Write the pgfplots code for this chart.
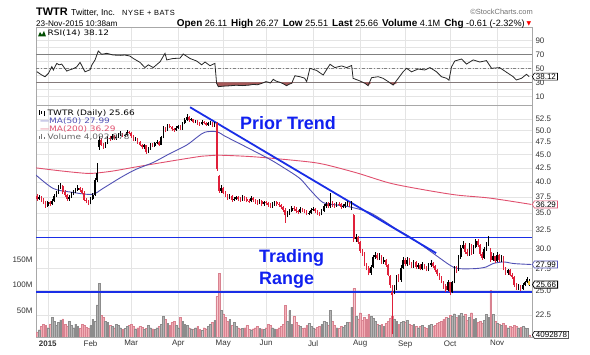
\documentclass[border=0pt]{standalone}
\usepackage{pgfplots}
\pgfplotsset{compat=1.18}
\usepackage{pgfplotstable}
\usetikzlibrary{shapes.symbols}
\usepackage{fontspec}
\setmainfont{Liberation Sans}
\newfontfamily\dv[FakeStretch=1.2]{DejaVu Sans}
\newfontfamily\dvplain{DejaVu Sans}
\definecolor{gridc}{HTML}{E4E4E4}
\definecolor{framec}{HTML}{A8A8A8}
\definecolor{candred}{HTML}{E0203A}
\definecolor{volred}{HTML}{F3AEB6}
\definecolor{volredE}{HTML}{D88290}
\definecolor{volgray}{HTML}{B4B4B4}
\definecolor{volgrayE}{HTML}{8C8C8C}
\definecolor{ma50}{HTML}{5050B4}
\definecolor{ma200}{HTML}{E0506E}
\definecolor{annblue}{HTML}{1020F0}
\definecolor{lineblue}{HTML}{1A2EE6}
\definecolor{rsifill}{HTML}{A85A5A}
\definecolor{txt}{HTML}{333333}
\definecolor{lastc}{HTML}{F2C23A}

\pgfplotstableread{
i o h l c v r
-5 37.6 37.9 36.9 37.2 10 1
-4 37.2 37.8 37.0 37.5 14 0
-3 37.5 37.7 36.7 37.0 20 1
-2 37.0 37.3 36.3 36.6 24 1
-1 36.6 36.8 35.8 36.1 22 1
0 36.1 36.9 35.9 36.6 18 0
1 36.6 36.9 36.0 36.4 25 1
2 36.4 37.2 36.2 36.9 38 0
3 36.9 37.9 36.7 37.6 30 0
4 37.6 38.5 37.4 38.2 22 0
5 38.2 39.4 38.0 39.0 28 0
6 39.0 39.8 38.8 39.3 33 0
7 39.3 39.5 38.0 38.3 35 1
8 38.3 38.6 37.5 37.8 24 1
9 37.8 38.0 36.9 37.2 20 1
10 37.2 37.8 36.9 37.5 30 0
11 37.5 38.3 37.3 38.0 22 0
12 38.0 38.7 37.8 38.4 18 0
13 38.4 39.0 38.2 38.7 25 0
14 38.7 39.5 38.5 39.0 20 0
15 39.0 39.2 38.3 38.6 17 1
16 38.6 38.9 37.9 38.2 24 1
17 38.2 38.4 36.8 37.0 22 1
18 37.0 37.3 36.5 36.8 19 1
19 36.8 37.0 36.2 36.5 17 1
20 36.5 37.5 36.3 37.2 22 0
21 37.2 38.1 37.0 37.8 34 0
22 37.8 40.7 37.6 40.3 30 0
23 40.3 43.5 40.0 41.5 62 0
24 46.5 48.7 46.0 48.0 104 0
25 48.0 48.3 46.7 47.0 42 1
26 47.0 47.4 46.2 46.6 38 1
27 46.6 47.6 46.4 47.3 30 0
28 47.3 48.8 47.1 48.4 28 0
29 48.4 48.7 47.8 48.1 22 1
30 48.1 49.2 47.9 48.8 20 0
31 48.8 49.0 48.0 48.3 18 1
32 48.3 48.9 48.0 48.6 24 0
33 48.6 49.4 48.4 49.0 22 0
34 49.0 49.8 48.8 49.3 18 0
35 49.3 49.5 48.6 48.9 15 1
36 48.9 49.3 48.6 49.0 17 0
37 49.0 50.0 48.8 49.6 20 0
38 49.6 49.9 49.1 49.4 22 1
39 49.4 49.6 48.4 48.7 24 1
40 48.7 48.9 47.7 48.0 20 1
41 48.0 48.5 47.7 48.2 16 0
42 48.2 48.4 47.2 47.5 18 1
43 47.5 47.8 46.7 47.0 21 1
44 47.0 47.2 46.2 46.5 19 1
45 46.5 47.2 46.2 46.9 15 0
46 46.9 47.0 45.2 45.5 17 1
47 45.5 46.5 45.3 46.2 22 0
48 46.2 47.3 46.0 47.0 18 0
49 47.0 47.3 46.5 46.8 16 1
50 46.8 47.6 46.6 47.3 15 0
51 47.3 47.9 47.1 47.6 18 0
52 47.6 47.8 46.7 47.0 20 1
53 47.0 48.8 46.9 48.5 24 0
54 48.5 50.9 48.3 50.5 40 0
55 50.5 50.8 49.6 50.0 34 1
56 50.0 51.4 49.8 51.0 26 0
57 51.0 51.3 50.4 50.7 22 1
58 50.7 51.0 49.9 50.2 28 1
59 50.2 50.5 49.7 50.0 30 1
60 50.0 50.9 49.8 50.6 22 0
61 50.6 51.2 50.3 50.9 18 0
62 50.9 51.1 50.0 50.3 38 1
63 50.3 51.8 50.1 51.5 30 0
64 51.5 52.7 51.3 52.3 24 0
65 52.3 53.6 52.1 53.0 22 0
66 53.0 53.2 51.9 52.2 18 1
67 52.2 52.8 52.0 52.4 16 0
68 52.4 52.6 51.5 51.8 15 1
69 51.8 52.3 51.5 52.0 18 0
70 52.0 52.2 51.2 51.5 20 1
71 51.5 51.8 51.0 51.3 15 1
72 51.3 52.2 51.1 51.9 13 0
73 51.9 52.1 51.3 51.6 18 1
74 51.6 51.8 50.9 51.2 16 1
75 51.2 51.8 51.0 51.5 20 0
76 51.5 52.0 51.2 51.7 24 0
77 51.7 51.9 50.7 51.0 28 1
78 51.0 51.9 50.8 51.6 32 0
79 51.6 51.9 42.0 42.3 78 1
80 41.0 41.3 38.2 38.5 123 1
81 38.5 39.4 38.1 38.9 52 0
82 38.9 39.1 37.9 38.2 45 1
83 38.2 38.5 37.5 37.8 38 1
84 37.8 38.0 37.0 37.3 30 1
85 37.3 37.9 37.1 37.6 34 0
86 37.6 37.8 36.7 37.0 22 1
87 37.0 37.5 36.8 37.2 28 0
88 37.2 37.7 37.0 37.4 20 0
89 37.4 37.6 36.8 37.1 18 1
90 37.1 37.4 36.7 37.0 16 1
91 37.0 37.8 36.8 37.5 17 0
92 37.5 37.7 36.9 37.2 18 1
93 37.2 37.4 36.6 36.9 22 1
94 36.9 37.1 36.5 36.8 15 1
95 36.8 37.6 36.6 37.3 14 0
96 37.3 37.5 36.7 37.0 16 1
97 37.0 37.2 36.4 36.7 18 1
98 36.7 37.0 36.2 36.5 20 1
99 36.5 37.1 36.3 36.8 17 0
100 36.8 37.0 36.0 36.3 16 1
101 36.3 36.9 36.1 36.6 15 0
102 36.6 36.9 36.2 36.5 18 1
103 36.5 36.7 35.9 36.2 25 1
104 36.2 36.5 35.7 36.0 22 1
105 36.0 36.6 35.8 36.3 18 0
106 36.3 36.9 36.1 36.6 16 0
107 36.6 36.8 36.1 36.4 15 1
108 36.4 36.7 35.9 36.2 18 1
109 36.2 36.4 35.6 35.9 20 1
110 35.9 36.1 35.2 35.5 24 1
111 35.5 35.7 33.5 34.6 61 1
112 34.6 35.3 34.3 34.9 30 0
113 34.9 35.6 34.7 35.3 51 0
114 35.3 36.1 35.1 35.8 25 0
115 35.8 36.0 35.3 35.6 40 1
116 35.6 35.9 35.0 35.3 28 1
117 35.3 35.5 34.8 35.1 22 1
118 35.1 35.9 34.9 35.6 20 0
119 35.6 35.8 35.1 35.4 17 1
120 35.4 35.6 34.9 35.2 18 1
121 35.2 35.4 34.6 34.9 22 1
122 34.9 35.3 34.7 35.0 26 0
123 35.0 35.8 34.8 35.5 20 0
124 35.5 35.9 35.3 35.6 18 0
125 35.6 35.8 35.0 35.3 16 1
126 35.3 35.5 34.7 35.0 19 1
127 35.0 35.2 34.5 34.8 21 1
128 34.8 35.6 34.6 35.3 24 0
129 35.3 36.3 35.1 36.0 30 0
130 36.0 36.6 35.8 36.3 28 0
131 36.3 36.6 35.7 36.0 22 1
132 36.0 38.1 35.8 36.5 51 0
133 36.5 36.8 35.9 36.2 30 1
134 36.2 36.5 35.8 36.1 22 1
135 36.1 36.7 35.9 36.4 18 0
136 36.4 36.7 36.0 36.3 17 1
137 36.3 36.5 35.6 35.9 20 1
138 35.9 36.3 35.7 36.0 19 0
139 36.0 36.6 35.8 36.3 22 0
140 36.3 36.8 36.1 36.4 28 0
141 36.4 36.7 35.9 36.1 28 1
142 35.9 36.9 35.4 36.7 57 0
143 34.6 34.8 30.9 31.2 94 1
144 31.2 31.9 30.9 31.5 40 0
145 31.5 31.7 30.6 30.9 35 1
146 30.9 31.0 29.4 29.7 47 1
147 29.7 29.9 29.1 29.4 32 1
148 29.4 29.5 27.8 28.0 38 1
149 28.0 28.2 27.3 27.6 34 1
150 27.6 27.8 26.7 27.0 44 1
151 27.0 27.9 26.8 27.7 40 0
152 27.7 29.2 27.6 28.9 36 0
153 28.9 29.5 28.7 29.2 30 0
154 29.2 29.4 28.5 28.8 25 1
155 28.8 29.4 28.6 29.1 22 0
156 29.1 29.2 28.1 28.3 24 1
157 28.3 28.9 28.1 28.6 20 0
158 28.6 28.7 27.7 27.9 26 1
159 27.9 28.0 26.6 26.8 30 1
160 26.6 26.8 25.3 25.6 36 1
161 24.5 25.6 20.7 24.9 40 1
162 24.9 25.6 24.6 25.3 35 0
163 25.3 26.8 25.1 26.5 30 0
164 26.5 26.9 25.9 26.2 25 1
165 26.2 27.9 26.0 27.6 28 0
166 27.6 28.9 27.4 28.6 30 0
167 28.6 28.8 27.8 28.0 28 1
168 28.0 28.9 27.8 28.6 32 0
169 28.6 28.8 27.9 28.1 25 1
170 28.1 28.3 27.6 27.8 22 1
171 27.8 28.6 27.6 28.3 24 0
172 28.3 28.4 27.5 27.7 20 1
173 27.7 28.2 27.5 27.9 18 0
174 27.9 28.0 27.3 27.5 21 1
175 27.5 28.3 27.3 28.0 23 0
176 28.0 28.1 27.4 27.6 19 1
177 27.6 27.8 27.2 27.4 17 1
178 27.4 28.2 27.2 27.9 22 0
179 27.9 28.5 27.7 28.2 25 0
180 28.2 28.3 27.6 27.8 20 1
181 27.8 27.9 27.1 27.3 22 1
182 27.3 27.4 26.6 26.9 26 1
183 26.9 27.0 26.2 26.4 28 1
184 26.4 26.6 25.8 26.0 30 1
185 26.0 26.1 25.2 25.5 34 1
186 25.5 25.7 24.8 25.1 38 1
187 25.1 26.2 25.0 25.9 36 0
188 25.9 26.0 24.5 24.9 42 1
189 24.9 26.1 24.7 25.9 40 0
190 25.9 27.8 25.8 27.5 45 0
191 27.5 27.8 27.0 27.3 38 1
192 27.3 29.2 27.2 28.9 42 0
193 28.9 30.5 28.7 30.1 46 0
194 30.1 31.0 29.9 30.5 40 0
195 30.5 30.7 29.3 29.6 44 1
196 29.6 29.9 29.0 29.3 32 1
197 29.3 30.7 29.1 30.4 38 0
198 30.4 30.6 29.2 29.5 47 1
199 29.5 30.5 29.3 30.2 34 0
200 30.2 31.3 30.0 31.0 36 0
201 31.0 31.2 30.2 30.5 28 1
202 30.5 30.6 29.1 29.3 30 1
203 29.3 29.5 28.6 28.8 26 1
204 28.8 30.2 28.7 29.9 32 0
205 29.9 30.8 29.7 30.5 44 0
206 30.5 31.6 30.3 31.3 38 0
207 29.6 30.0 28.3 28.6 90 1
208 28.6 29.4 28.4 29.0 44 0
209 29.0 29.1 28.2 28.4 30 1
210 28.4 29.5 28.3 29.2 26 0
211 29.2 29.3 28.3 28.5 24 1
212 28.5 29.2 28.3 28.9 22 0
213 28.9 29.0 27.3 27.5 26 1
214 27.5 27.7 26.8 27.0 22 1
215 27.0 27.5 26.8 27.3 18 0
216 27.3 27.4 26.6 26.8 20 1
217 26.8 27.0 26.3 26.5 19 1
218 26.5 26.6 25.4 25.6 22 1
219 25.6 25.8 25.1 25.3 20 1
220 25.3 25.7 25.1 25.5 18 0
221 25.5 25.6 25.0 25.2 19 1
222 25.2 25.8 25.1 25.6 20 0
223 25.6 26.1 25.5 25.9 18 0
224 25.9 26.5 25.8 26.27 17 0
225 26.11 26.27 25.51 25.66 4.09 2
}\ohlc

\pgfplotstableread{
i v
-5.5 42.5
5 42.0
15 41.6
20.6 41.5
30 41.9
41.6 42.7
55 43.6
71.9 44.7
78.9 44.9
95.9 44.6
117.8 43.8
128.6 43.2
144.3 41.6
159.9 39.8
175.3 38.7
191 37.8
206.6 37.3
226 36.29
}\maTwo

\pgfplotstableread{
i v
-5.5 41.2
2.5 38.9
10.4 38.3
20.6 37.9
25.8 38.9
33.8 40.7
41 42.2
49.2 43.5
57 45.2
64.9 46.9
70 48.6
73.5 49.6
78.9 49.7
83 48.7
88.3 47.5
96 45.8
103.8 44.1
110 42.6
117.8 40.6
123 38.5
128.6 36.6
135 36.2
141.2 35.9
150 35.1
156.6 33.9
163 32.6
170 31.4
180 29.4
188 27.9
192 27.5
200 27.5
205 27.7
208 28.1
213 28.3
218 28.1
226 27.99
}\maFifty

\pgfplotstableread{
i v
-5.1 45.2
-2.8 40.4
-1.3 38
0.3 42.8
1.9 52.3
2.6 47.6
4.2 57
5.3 55
6.5 56
8.9 46
9.5 47
11.5 49
13.5 52
15.1 58.5
17.4 45
19.8 48
20.6 54.7
22.1 62
23.6 74.7
25.2 70
27.6 71.4
30.5 69
34 68.5
36 69
38.4 67.5
40 64
43.1 58.5
45.4 51
47 55
49.3 51
52.5 59.4
54.8 71.4
55.6 62
58.5 64
61.8 64.5
63.3 70.4
66.5 64
69.6 60.4
71.9 55
73.5 59
75.8 53.7
78.1 57
78.9 28.6
79.7 23.8
82 24.5
85 25
88 25.8
91 25.3
94 26
96 27
98 26.5
100 28.5
102 31
103 30.2
104 29
105.4 34.3
106.5 32
108.5 30
110 28
111.6 25.2
113 27.5
114 28.6
115.5 39.4
117.8 38
120 36
121 31
122.5 50
125.6 47
128.7 40.4
131.9 55.7
134.2 51
137.3 53.4
139.7 51
142 54
142.7 35.7
145.9 31.9
148.2 28.6
149.7 25.2
151.3 36.6
154.4 38
156.7 35.7
159.1 31
161.4 26.1
163.8 35.7
166.1 45.2
167.7 50
170 45
173.1 49
176.2 47.6
178.6 51
181.7 45
184 38
186.4 35.7
187.5 33
188.7 52
190.2 60.4
193.4 63.3
195.7 56
198.8 62
201.9 59
205 61
207.4 50
211.2 51
214.4 44.3
217.5 38
219 33.3
221.4 35.7
223.7 41.4
225 38.12
}\rsitab

\tikzset{
  tag/.style={signal, signal to=west, signal pointer angle=120, draw, fill=white,
    line width=0.6bp, inner xsep=1.6bp, inner ysep=0.7bp, anchor=west,
    font=\fontsize{8}{9}\selectfont, text=black},
}
\pgfplotsset{
  base/.style={
    scale only axis, width=496bp, anchor=south west,
    xmin=-5.5, xmax=226.3,
    major tick length=0pt, minor tick length=0pt,
    /pgf/number format/assume math mode=true,
    ticklabel style={font=\fontsize{8}{9}\selectfont, text=txt},
    clip mode=individual,
  },
  wick/.style={draw=none, mark=none, forget plot,
    error bars/.cd, y dir=plus, y explicit, error mark=none,
    error bar style={draw=#1, line width=0.55bp}},
  body/.style={draw=none, mark=none, forget plot,
    error bars/.cd, y dir=plus, y explicit, error mark=none,
    error bar style={draw=#1, line width=1.6bp}},
}
\def\monthticks{0,20,39,61,82,102,124,146,167,188,210}
\newcommand\hb[1]{{\bfseries\fontsize{10}{10}\selectfont #1}}

\begin{document}
\begin{tikzpicture}
\path[use as bounding box] (0,0) rectangle (590bp,355bp);

% ---------- main grid ----------
\begin{axis}[base, at={(36bp,18bp)}, height=232bp,
  ymode=log, ymin=20.46, ymax=55.78,
  xtick=\monthticks,
  xticklabels={\textbf{2015},Feb,Mar,Apr,May,Jun,Jul,Aug,Sep,Oct,Nov},
  ytick={22.5,25,27.5,30,32.5,35,37.5,40,42.5,45,47.5,50,52.5},
  yticklabel pos=right,
  yticklabel={\pgfmathparse{exp(\tick)}\pgfmathprintnumber[fixed,fixed zerofill,precision=1]{\pgfmathresult}},
  grid=major, major grid style={draw=gridc, line width=0.5bp},
  axis line style={draw=framec, line width=0.6bp}]
\end{axis}

% ---------- volume ----------
\begin{axis}[base, at={(36bp,18bp)}, height=232bp,
  ymin=0, ymax=448, axis line style={draw=none}, xtick=\empty,
  ytick={50,100,150}, yticklabels={50M,100M,150M}]
\addplot[ybar, bar width=1.8bp, bar shift=0pt, fill=volred, draw=volredE, line width=0.3bp]
  table[x=i, y=v, restrict expr to domain={\thisrow{r}}{1:2}]{\ohlc};
\addplot[ybar, bar width=1.8bp, bar shift=0pt, fill=volgray, draw=volgrayE, line width=0.3bp]
  table[x=i, y=v, restrict expr to domain={\thisrow{r}}{0:0}]{\ohlc};
\node[tag, draw=black] at (axis cs:226.3,4.09) {4092878};
\end{axis}

% ---------- price ----------
\begin{axis}[base, at={(36bp,18bp)}, height=232bp,
  ymode=log, ymin=20.46, ymax=55.78,
  axis line style={draw=none}, xtick=\empty, ytick=\empty]
\addplot[ma200, line width=0.9bp, smooth, mark=none] table[x=i,y=v]{\maTwo};
\addplot[ma50, line width=0.9bp, smooth, mark=none] table[x=i,y=v]{\maFifty};
\addplot[lineblue, line width=1.4bp, mark=none] coordinates {(-5.5,31.43) (226.3,31.43)};
\addplot[lineblue, line width=1.4bp, mark=none] coordinates {(-5.5,24.85) (226.3,24.85)};
\addplot[lineblue, line width=1.8bp, mark=none] coordinates {(66.5,55.24) (181.5,29.4)};
% wicks
\addplot[wick=black] table[x=i, y=l, y error expr=\thisrow{h}-\thisrow{l},
  restrict expr to domain={\thisrow{r}}{0:0}]{\ohlc};
\addplot[wick=candred] table[x=i, y=l, y error expr=\thisrow{h}-\thisrow{l},
  restrict expr to domain={\thisrow{r}}{1:1}]{\ohlc};
\addplot[wick=black] table[x=i, y=l, y error expr=\thisrow{h}-\thisrow{l},
  restrict expr to domain={\thisrow{r}}{2:2}]{\ohlc};
% bodies
\addplot[body=black] table[x=i, y expr={min(\thisrow{o},\thisrow{c})},
  y error expr={max(abs(\thisrow{c}-\thisrow{o}),0.07)},
  restrict expr to domain={\thisrow{r}}{0:0}]{\ohlc};
\addplot[body=candred] table[x=i, y expr={min(\thisrow{o},\thisrow{c})},
  y error expr={max(abs(\thisrow{c}-\thisrow{o}),0.07)},
  restrict expr to domain={\thisrow{r}}{1:1}]{\ohlc};
\addplot[body=lastc] table[x=i, y expr={min(\thisrow{o},\thisrow{c})},
  y error expr={max(abs(\thisrow{c}-\thisrow{o}),0.07)},
  restrict expr to domain={\thisrow{r}}{2:2}]{\ohlc};
\node[tag, draw=ma200] at (axis cs:226.3,36.29) {36.29};
\node[tag, draw=ma50] at (axis cs:226.3,27.99) {27.99};
\node[tag, draw=black, line width=0.8bp] at (axis cs:226.3,25.66) {25.66};
\end{axis}

% ---------- RSI ----------
\begin{axis}[base, at={(36bp,250bp)}, height=78bp,
  ymin=-2.4, ymax=109,
  xtick=\monthticks, xticklabels={},
  ytick={10,30,50,70,90}, minor ytick={20,40,60,80},
  yticklabel pos=right,
  grid=both, major grid style={draw=gridc, line width=0.5bp},
  minor grid style={draw=gridc, line width=0.5bp},
  axis line style={draw=framec, line width=0.6bp}]
\addplot[gray, line width=0.8bp, mark=none] coordinates {(-5.5,70) (226.3,70)};
\addplot[gray, line width=0.8bp, mark=none] coordinates {(-5.5,30) (226.3,30)};
\addplot[gray, line width=0.6bp, dash dot, mark=none] coordinates {(-5.5,50) (226.3,50)};
\addplot[fill=rsifill, draw=none, mark=none, forget plot]
  table[x=i, y expr={min(\thisrow{v},30)}]{\rsitab}
  -- (axis cs:225,30) -- (axis cs:-5.1,30) -- cycle;
\addplot[black!85, line width=0.8bp, mark=none] table[x=i,y=v]{\rsitab};
\node[tag, draw=black] at (axis cs:226.3,38.12) {38.12};
\end{axis}

% ---------- header ----------
\node[anchor=base west, inner sep=0pt, font=\bfseries\fontsize{11}{12}\selectfont] at (36bp,339.5bp) {TWTR};
\node[anchor=base west, inner sep=0pt, font=\fontsize{8.7}{10}\selectfont] at (71bp,339.5bp) {Twitter, Inc.};
\node[anchor=base west, inner sep=0pt, font={\fontsize{7.5}{9}\selectfont\addfontfeature{LetterSpace=8}}] at (122bp,339.5bp) {NYSE + BATS};
\node[anchor=base west, inner sep=0pt, font=\fontsize{8.2}{9}\selectfont] at (36bp,328.5bp) {23-Nov-2015 10:38am};
\node[anchor=base east, inner sep=0pt, font=\fontsize{9.2}{9}\selectfont] at (525bp,328.5bp)
  {\hb{Open} 26.11\hspace{4bp}\hb{High} 26.27\hspace{4bp}\hb{Low} 25.51\hspace{4bp}\hb{Last} 25.66\hspace{4bp}\hb{Volume} 4.1M\hspace{4bp}\hb{Chg} -0.61 (-2.32\%)};
\node[anchor=base west, inner sep=0pt, text=red, font=\dvplain\fontsize{6}{6}\selectfont] at (526.5bp,329bp) {▼};
\node[anchor=base east, inner sep=0pt, text=black!55, font=\fontsize{7.5}{9}\selectfont] at (533bp,340.5bp) {©StockCharts.com};

% ---------- legends ----------
\fill[black!70!green] (38bp,318.5bp) -- (40bp,323bp) -- (42bp,320bp) -- (44bp,324bp) -- (46bp,318.5bp) -- cycle;
\node[anchor=base west, inner sep=0pt, font=\dv\fontsize{7.5}{9}\selectfont] at (47.5bp,319bp) {RSI(14) 38.12};
\fill[black] (38.5bp,239.5bp) rectangle (39.7bp,245bp);
\fill[black] (41bp,240.5bp) rectangle (42.2bp,244bp);
\fill[black] (43.5bp,239bp) rectangle (44.7bp,243.5bp);
\node[anchor=base west, inner sep=0pt, font=\dv\fontsize{7.5}{9}\selectfont] at (47.5bp,239.5bp) {TWTR (Daily) 25.66};
\node[anchor=base west, inner sep=0pt, text=ma50, font=\dv\fontsize{7.5}{9}\selectfont] at (40bp,231.5bp) {—MA(50) 27.99};
\node[anchor=base west, inner sep=0pt, text=ma200, font=\dv\fontsize{7.5}{9}\selectfont] at (40bp,223.7bp) {—MA(200) 36.29};
\fill[black!55] (38.5bp,215.7bp) rectangle (39.7bp,219bp);
\fill[black!55] (41bp,215.7bp) rectangle (42.2bp,221bp);
\fill[black!55] (43.5bp,215.7bp) rectangle (44.7bp,218bp);
\node[anchor=base west, inner sep=0pt, text=black!60, font=\dv\fontsize{7.5}{9}\selectfont] at (47.5bp,215.7bp) {Volume 4,092,878};

% ---------- annotations ----------
\node[anchor=base west, inner sep=0pt, text=annblue, font=\bfseries\fontsize{18}{20}\selectfont] at (240bp,225bp) {Prior Trend};
\node[anchor=base west, inner sep=0pt, text=annblue, font=\bfseries\fontsize{18}{20}\selectfont] at (259bp,92.3bp) {Trading};
\node[anchor=base west, inner sep=0pt, text=annblue, font=\bfseries\fontsize{18}{20}\selectfont] at (259bp,70.5bp) {Range};
\end{tikzpicture}
\end{document}
